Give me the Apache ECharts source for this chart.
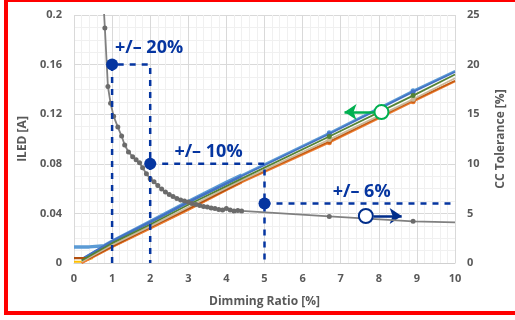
<!DOCTYPE html>
<html>
<head>
	<meta charset="UTF-8">
	<title>ILED vs Dimming Ratio</title>
	<script src="https://cdn.jsdelivr.net/npm/echarts@6/dist/echarts.min.js"></script>
	<style>
		html, body { margin: 0; padding: 0; background: #fff; overflow: hidden; }
		#frame {
			position: absolute; left: 4px; top: -2px; width: 530px; height: 317px;
			border: 4px solid #ff0000; border-right: none; box-sizing: border-box;
		}
		#chart { position: absolute; left: 0; top: 0; width: 515px; height: 320px; }
	</style>
</head>
<body>
<div id="frame"></div>
<div id="chart"></div>
<script type="text/javascript">
	// CC tolerance curve (right axis, %)
	var ccX = [0.77, 0.81, 0.89, 0.96, 1.04, 1.15, 1.25, 1.33, 1.43, 1.54, 1.63, 1.72, 1.8, 1.9, 2.0, 2.1, 2.2, 2.3, 2.4, 2.5, 2.6, 2.7, 2.8, 2.9, 3.0, 3.1, 3.2, 3.3, 3.4, 3.5, 3.6, 3.7, 3.8, 3.9, 4.0, 4.1, 4.2, 4.3, 4.4, 6.7, 8.9, 10];
	var ccY = [26.5, 23.7, 17.8, 16.1, 14.8, 13.7, 12.8, 11.9, 11.2, 10.7, 10.4, 10.1, 9.6, 9.0, 8.5, 8.2, 7.8, 7.45, 7.15, 6.9, 6.7, 6.5, 6.35, 6.25, 6.15, 6.0, 5.9, 5.8, 5.7, 5.65, 5.55, 5.5, 5.4, 5.35, 5.5, 5.35, 5.25, 5.3, 5.25, 4.7, 4.2, 4.1];

	// ILED curves (left axis, A)
	var lblueX = [0, 0.4, 0.8, 1, 2, 3, 4, 4.4, 6.7, 8.9, 10];
	var lblueY = [0.013, 0.013, 0.014, 0.0175, 0.0335, 0.0495, 0.065, 0.071, 0.105, 0.139, 0.155];
	var blueX = [0.2, 1, 2, 3, 4, 4.4, 6.7, 8.9, 10];
	var blueY = [0.003, 0.0175, 0.033, 0.049, 0.064, 0.070, 0.104, 0.138, 0.154];
	var greenX = [0.2, 1, 2, 3, 4, 4.4, 6.7, 8.9, 10];
	var greenY = [0.002, 0.016, 0.031, 0.047, 0.062, 0.068, 0.102, 0.135, 0.152];
	var tanX = [0.2, 1, 2, 3, 4, 4.4, 6.7, 8.9, 10];
	var tanY = [0.001, 0.0145, 0.0295, 0.045, 0.0605, 0.0665, 0.0995, 0.132, 0.149];
	var yellowX = [0, 0.2, 0.5];
	var yellowY = [0.001, 0.001, 0.004];
	var brownX = [0, 0.2, 0.4, 1, 2, 3, 4, 4.4, 6.7, 8.9, 10];
	var brownY = [0.004, 0.004, 0.004, 0.0135, 0.029, 0.044, 0.0595, 0.066, 0.098, 0.131, 0.147];
	var orangeX = [0.2, 1, 2, 3, 4, 4.4, 6.7, 8.9, 10];
	var orangeY = [0, 0.013, 0.028, 0.043, 0.059, 0.065, 0.097, 0.130, 0.1465];

	// tolerance annotations (right axis)
	var tolX = [1, 2, 5];
	var tolY = [20, 10, 6];
	var tolText = ['+/– 20%', '+/– 10%', '+/– 6%'];
	var tolLabelX = [1.97, 3.53, 7.55];
	var tolLabelY = [21.7, 11.2, 7.2];

	var blueDark = '#0535a0';
	var txtGray = '#595959';

	function pairs(xs, ys) {
		var out = [];
		for (var i = 0; i < xs.length; i++) out.push([xs[i], ys[i]]);
		return out;
	}
	function upTo(xs, ys, lim) {
		var out = [];
		for (var i = 0; i < xs.length; i++) if (xs[i] <= lim) out.push([xs[i], ys[i]]);
		return out;
	}
	// markers only on the two sparse samples
	function sparseSym(v) { return (v[0] > 6 && v[0] < 9.5) ? 5 : 0; }

	function ledLine(name, xs, ys, color, z) {
		return {
			name: name, type: 'line', data: pairs(xs, ys), yAxisIndex: 0,
			symbol: 'circle', symbolSize: sparseSym, z: z,
			lineStyle: { color: color, width: 1.8 }, itemStyle: { color: color }
		};
	}
	function denseLine(xs, ys, color, w, z) {
		return {
			type: 'line', data: upTo(xs, ys, 4.45), yAxisIndex: 0, symbol: 'none', z: z,
			lineStyle: { color: color, width: w }
		};
	}
	function dashed(pts) {
		return {
			type: 'line', yAxisIndex: 1, data: pts, symbol: 'none', z: 10,
			lineStyle: { color: blueDark, width: 2.5, type: [6, 6] }
		};
	}

	var chart = echarts.init(document.getElementById('chart'), null, { renderer: 'canvas' });

	var labelData = [];
	for (var k = 0; k < tolText.length; k++) {
		labelData.push({ value: [tolLabelX[k], tolLabelY[k]], label: { formatter: tolText[k] } });
	}

	var axisLab = { color: txtGray, fontWeight: 'bold', fontSize: 11, fontFamily: 'Open Sans' };
	var axisNm = { color: txtGray, fontWeight: 'bold', fontSize: 12, fontFamily: 'Open Sans' };

	var option = {
		animation: false,
		grid: { left: 74, right: 57, top: 15, bottom: 57 },
		xAxis: {
			type: 'value', min: 0, max: 10, interval: 1,
			name: 'Dimming Ratio [%]', nameLocation: 'middle', nameGap: 33, nameTextStyle: axisNm,
			axisLine: { show: true, lineStyle: { color: '#d0d0d0' } },
			axisTick: { show: false },
			axisLabel: Object.assign({ margin: 10 }, axisLab),
			splitLine: { lineStyle: { color: '#d9d9d9' } },
			minorTick: { show: false, splitNumber: 5 },
			minorSplitLine: { show: true, lineStyle: { color: '#f0f0f0' } }
		},
		yAxis: [{
			type: 'value', min: 0, max: 0.2, interval: 0.04,
			name: 'ILED [A]', nameLocation: 'middle', nameGap: 45, nameTextStyle: axisNm,
			axisLine: { show: false }, axisTick: { show: false },
			axisLabel: Object.assign({ margin: 12 }, axisLab),
			splitLine: { lineStyle: { color: '#d9d9d9' } },
			minorTick: { show: false, splitNumber: 4 },
			minorSplitLine: { show: true, lineStyle: { color: '#f0f0f0' } }
		}, {
			type: 'value', min: 0, max: 25, interval: 5, position: 'right',
			name: 'CC Tolerance [%]', nameLocation: 'middle', nameGap: 40, nameRotate: 90, nameTextStyle: axisNm,
			axisLine: { show: false }, axisTick: { show: false },
			axisLabel: Object.assign({ margin: 12 }, axisLab),
			splitLine: { show: false }
		}],
		series: [
			ledLine('yellow', yellowX, yellowY, '#ffc000', 2),
			ledLine('lightblue', lblueX, lblueY, '#5b9bd5', 2),
			denseLine(lblueX, lblueY, '#5b9bd5', 3.5, 2),
			ledLine('blue', blueX, blueY, '#4472c4', 3),
			denseLine(blueX, blueY, '#4472c4', 2.5, 3),
			ledLine('orange', orangeX, orangeY, '#ed7d31', 3),
			denseLine(orangeX, orangeY, '#ed7d31', 2.5, 3),
			ledLine('brown', brownX, brownY, '#c55a11', 3),
			denseLine(brownX, brownY, '#b34f0e', 2.2, 3),
			ledLine('tan', tanX, tanY, '#c9b89a', 4),
			ledLine('green', greenX, greenY, '#548235', 4),
			{
				name: 'cc', type: 'line', yAxisIndex: 1, data: pairs(ccX, ccY), z: 6,
				symbol: 'circle', symbolSize: function (v) { return (v[0] > 0.8 && v[0] < 9.5) ? 5 : 0; },
				lineStyle: { color: '#808080', width: 1.8 }, itemStyle: { color: '#6b6b6b', opacity: 1 }
			},
			dashed([[tolX[0], 0], [tolX[0], tolY[0]], [tolX[1], tolY[0]], [tolX[1], 0]]),
			dashed([[tolX[1], tolY[1]], [tolX[2], tolY[1]], [tolX[2], 0]]),
			dashed([[tolX[2], tolY[2]], [10, tolY[2]]]),
			{
				type: 'scatter', yAxisIndex: 1, data: pairs(tolX, tolY), symbolSize: 12, z: 11,
				itemStyle: { color: blueDark, opacity: 1 }
			},
			{
				type: 'scatter', yAxisIndex: 1, data: labelData, symbolSize: 0, z: 12,
				itemStyle: { opacity: 1 },
				label: { show: true, position: 'inside', color: blueDark, fontWeight: 'bold', fontSize: 18, fontFamily: 'Open Sans' }
			},
			{
				type: 'scatter', yAxisIndex: 0, data: [[8.07, 0.1217]], symbol: 'emptyCircle', symbolSize: 14, z: 12,
				itemStyle: { color: '#00b050', borderWidth: 2.5, opacity: 1 },
				markLine: {
					silent: true, symbol: ['none', 'arrow'], symbolSize: 12, label: { show: false },
					lineStyle: { color: '#00b050', width: 2.5, type: 'solid', opacity: 1 },
					data: [[{ coord: [7.88, 0.1217] }, { coord: [7.1, 0.1217] }]]
				}
			},
			{
				type: 'scatter', yAxisIndex: 1, data: [[7.66, 4.74]], symbol: 'emptyCircle', symbolSize: 14, z: 12,
				itemStyle: { color: '#002d8a', borderWidth: 2.5, opacity: 1 },
				markLine: {
					silent: true, symbol: ['none', 'arrow'], symbolSize: 12, label: { show: false },
					lineStyle: { color: '#002d8a', width: 2.5, type: 'solid', opacity: 1 },
					data: [[{ coord: [7.86, 4.74] }, { coord: [8.6, 4.74] }]]
				}
			}
		]
	};

	chart.setOption(option);
</script>
</body>
</html>
